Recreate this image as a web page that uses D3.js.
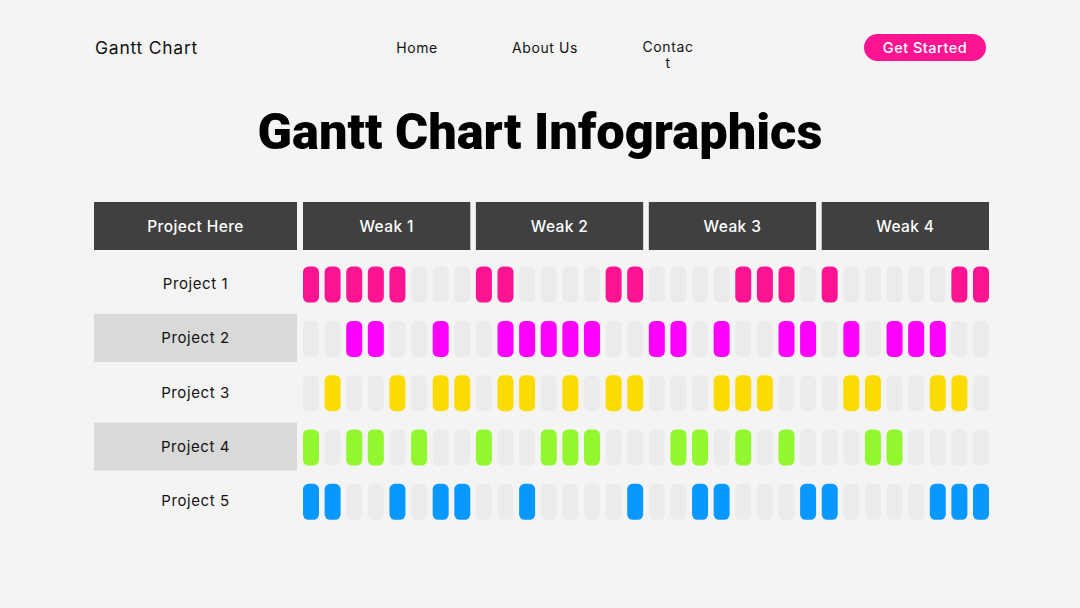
<!DOCTYPE html>
<html>
<head>
<meta charset="utf-8">
<script src="https://cdn.jsdelivr.net/npm/d3@7"></script>
<style>
  html, body { margin: 0; padding: 0; background: #f4f4f4; }
  svg { display: block; }
</style>
</head>
<body>
<svg id="chart" width="1080" height="608"></svg>
<script>
// ---------------- data ----------------
const projects = ["Project 1", "Project 2", "Project 3", "Project 4", "Project 5"];
const weeks = ["Weak 1", "Weak 2", "Weak 3", "Weak 4"];
const slotsPerWeek = 8;
const projectColors = ["#fe1493", "#ff00fe", "#fcdb00", "#92f72e", "#0898ff"];
const project1 = [1,1,1,1,1,0,0,0, 1,1,0,0,0,0,1,1, 0,0,0,0,1,1,1,0, 1,0,0,0,0,0,1,1];
const project2 = [0,0,1,1,0,0,1,0, 0,1,1,1,1,1,0,0, 1,1,0,1,0,0,1,1, 0,1,0,1,1,1,0,0];
const project3 = [0,1,0,0,1,0,1,1, 0,1,1,0,1,0,1,1, 0,0,0,1,1,1,0,0, 0,1,1,0,0,1,1,0];
const project4 = [1,0,1,1,0,1,0,0, 1,0,0,1,1,1,0,0, 0,1,1,0,1,0,1,0, 0,0,1,1,0,0,0,0];
const project5 = [1,1,0,0,1,0,1,1, 0,0,1,0,0,0,0,1, 0,0,1,1,0,0,0,1, 1,0,0,0,0,1,1,1];
const schedule = [project1, project2, project3, project4, project5];
const navItems = ["Home", "About Us", "Contact"];
const brand = "Gantt Chart";
const buttonLabel = "Get Started";
const title = "Gantt Chart Infographics";
const firstColumnLabel = "Project Here";

// ---------------- drawing ----------------
const svg = d3.select("#chart");
const font = "Inter, 'Noto Sans', sans-serif";

svg.append("rect").attr("width", 1080).attr("height", 608).attr("fill", "#f4f4f4");

// nav bar
svg.append("text").attr("x", 95).attr("y", 54)
  .attr("font-family", font).attr("font-size", 17.5).attr("letter-spacing", 0.75)
  .attr("fill", "#111").text(brand);

const navX = [417, 545, 668];
navItems.forEach((t, i) => {
  if (t === "Contact") {
    svg.append("text").attr("x", navX[i]).attr("y", 52).attr("text-anchor", "middle")
      .attr("font-family", font).attr("font-size", 14).attr("letter-spacing", 0.6)
      .attr("fill", "#111").text("Contac");
    svg.append("text").attr("x", navX[i]).attr("y", 68).attr("text-anchor", "middle")
      .attr("font-family", font).attr("font-size", 14).attr("letter-spacing", 0.6)
      .attr("fill", "#111").text("t");
  } else {
    svg.append("text").attr("x", navX[i]).attr("y", 53).attr("text-anchor", "middle")
      .attr("font-family", font).attr("font-size", 14).attr("letter-spacing", 0.6)
      .attr("fill", "#111").text(t);
  }
});

svg.append("rect").attr("x", 864).attr("y", 34).attr("width", 122).attr("height", 27)
  .attr("rx", 13.5).attr("fill", "#fe1493");
svg.append("text").attr("x", 925).attr("y", 53).attr("text-anchor", "middle")
  .attr("font-family", font).attr("font-size", 14.5).attr("font-weight", 500)
  .attr("letter-spacing", 0.5).attr("fill", "#fff").text(buttonLabel);

// title
const titleEl = svg.append("text").attr("x", 540).attr("y", 149).attr("text-anchor", "middle")
  .attr("font-family", "Roboto, 'Liberation Sans', sans-serif").attr("font-weight", 900)
  .attr("font-size", 48).attr("fill", "#000").text(title);
const tw = titleEl.node().getComputedTextLength();
titleEl.attr("font-size", 48 * 565 / tw);

// scales
const slots = d3.range(weeks.length * slotsPerWeek);
const x = d3.scaleBand().domain(slots).range([303, 989]).paddingInner(0.26).paddingOuter(0);
const y = d3.scaleBand().domain(projects).range([266.6, 519.8]).paddingInner(0.337).paddingOuter(0);
const colorScale = d3.scaleOrdinal().domain(projects).range(projectColors);

const labelX0 = 94, labelX1 = 297;
const headerY = 202, headerH = 48, highlightH = 48;

// header
svg.append("rect").attr("x", labelX0).attr("y", headerY).attr("width", labelX1 - labelX0)
  .attr("height", headerH).attr("fill", "#404040");
svg.append("text").attr("x", (labelX0 + labelX1) / 2).attr("y", headerY + 30)
  .attr("text-anchor", "middle").attr("font-family", font).attr("font-size", 15.5)
  .attr("font-weight", 500).attr("letter-spacing", 0.4).attr("fill", "#fff").text(firstColumnLabel);

weeks.forEach((w, i) => {
  const x0 = x(i * slotsPerWeek);
  const x1 = x(i * slotsPerWeek + slotsPerWeek - 1) + x.bandwidth();
  svg.append("rect").attr("x", x0).attr("y", headerY).attr("width", x1 - x0)
    .attr("height", headerH).attr("fill", "#404040");
  svg.append("text").attr("x", (x0 + x1) / 2).attr("y", headerY + 30)
    .attr("text-anchor", "middle").attr("font-family", font).attr("font-size", 15.5)
    .attr("font-weight", 500).attr("letter-spacing", 0.4).attr("fill", "#fff").text(w);
});

// rows
projects.forEach((p, r) => {
  const cy = y(p) + y.bandwidth() / 2;
  if (r % 2 === 1) {
    svg.append("rect").attr("x", labelX0).attr("y", cy - highlightH / 2 - 1)
      .attr("width", labelX1 - labelX0).attr("height", highlightH).attr("fill", "#d9d9d9");
  }
  svg.append("text").attr("x", (labelX0 + labelX1) / 2).attr("y", cy + 4.5)
    .attr("text-anchor", "middle").attr("font-family", font).attr("font-size", 15)
    .attr("letter-spacing", 0.6).attr("fill", "#111").text(p);

  svg.append("g").selectAll("rect").data(schedule[r]).join("rect")
    .attr("x", (d, i) => x(i))
    .attr("y", y(p))
    .attr("width", x.bandwidth())
    .attr("height", y.bandwidth())
    .attr("rx", 5.5).attr("ry", 5.5)
    .attr("fill", d => d ? colorScale(p) : "#ebebeb");
});
</script>
</body>
</html>
